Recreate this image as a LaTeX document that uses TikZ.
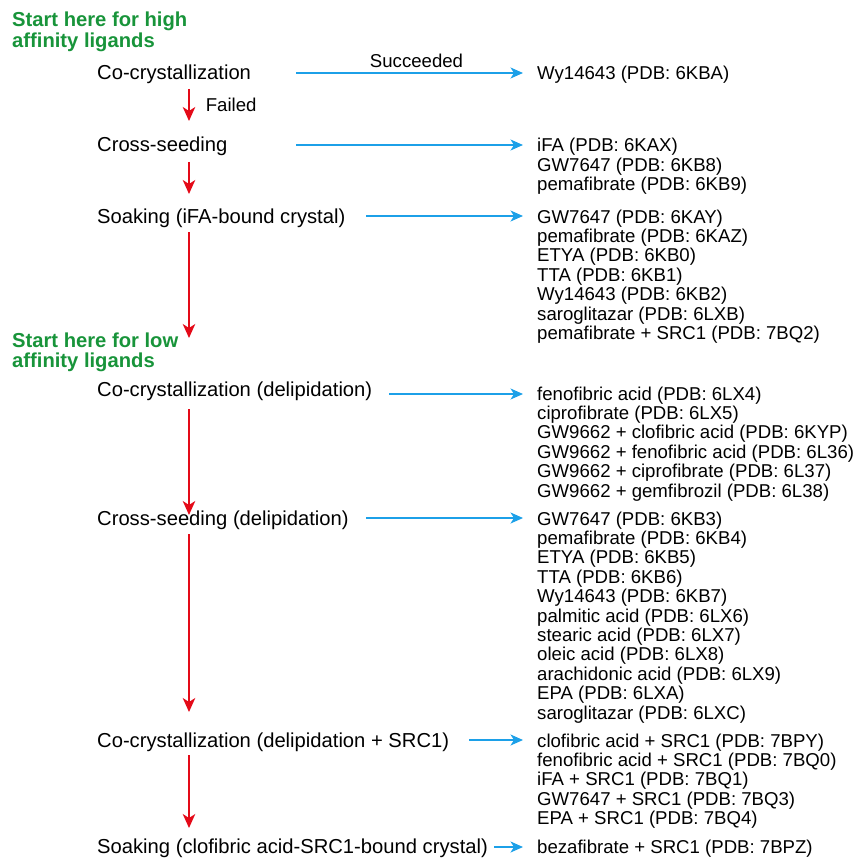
\documentclass[tikz,border=0pt]{standalone}
\usepackage{fontspec}
\setmainfont{Liberation Sans}
\usetikzlibrary{arrows.meta}
\definecolor{titlegreen}{RGB}{24,148,58}
\definecolor{arrowblue}{RGB}{28,160,232}
\definecolor{arrowred}{RGB}{228,10,24}
\tikzset{
  lbl/.style={anchor=base west, inner sep=0pt, font=\fontsize{20.2}{24}\selectfont},
  lst/.style={anchor=base west, inner sep=0pt, font=\fontsize{18.6}{19.4}\selectfont},
  ttl/.style={anchor=base west, inner sep=0pt, text=titlegreen, font=\bfseries\fontsize{20.2}{19.5}\selectfont},
  note/.style={inner sep=0pt, font=\fontsize{18.6}{20}\selectfont},
  barrow/.style={draw=arrowblue, line width=1.6pt, shorten >=14pt, -{Stealth[length=12.5pt,width=11pt,inset=3.5pt]}},
  rarrow/.style={draw=arrowred, line width=1.6pt, -{Stealth[length=14pt,width=12.5pt,inset=4pt]}}
}
\newcommand{\rows}[1]{\begin{tabular}[t]{@{}l@{}}#1\end{tabular}}
\begin{document}
\begin{tikzpicture}[x=1pt,y=-1pt]
\useasboundingbox (0,0) rectangle (860,861);
% titles
\node[ttl] (t1) at (12,27) {\rows{Start here for high\\affinity ligands}};
\node[ttl] (t2) at (12,347) {\rows{Start here for low\\affinity ligands}};
% main labels
\node[lbl] (m1) at (97,80) {Co-crystallization};
\node[lbl] (m2) at (97,152) {Cross-seeding};
\node[lbl] (m3) at (97,223) {Soaking (iFA-bound crystal)};
\node[lbl] (m4) at (97,396) {Co-crystallization (delipidation)};
\node[lbl] (m5) at (97,525) {Cross-seeding (delipidation)};
\node[lbl] (m6) at (97,747) {Co-crystallization (delipidation + SRC1)};
\node[lbl] (m7) at (97,853) {Soaking (clofibric acid-SRC1-bound crystal)};
% lists
\node[lst] (l1) at (537,80) {\rows{Wy14643 (PDB: 6KBA)}};
\node[lst] (l2) at (537,152) {\rows{iFA (PDB: 6KAX)\\GW7647 (PDB: 6KB8)\\pemafibrate (PDB: 6KB9)}};
\node[lst] (l3) at (537,223) {\rows{GW7647 (PDB: 6KAY)\\pemafibrate (PDB: 6KAZ)\\ETYA (PDB: 6KB0)\\TTA (PDB: 6KB1)\\Wy14643 (PDB: 6KB2)\\saroglitazar (PDB: 6LXB)\\pemafibrate + SRC1 (PDB: 7BQ2)}};
\node[lst] (l4) at (537,400) {\rows{fenofibric acid (PDB: 6LX4)\\ciprofibrate (PDB: 6LX5)\\GW9662 + clofibric acid (PDB: 6KYP)\\GW9662 + fenofibric acid (PDB: 6L36)\\GW9662 + ciprofibrate (PDB: 6L37)\\GW9662 + gemfibrozil (PDB: 6L38)}};
\node[lst] (l5) at (537,525) {\rows{GW7647 (PDB: 6KB3)\\pemafibrate (PDB: 6KB4)\\ETYA (PDB: 6KB5)\\TTA (PDB: 6KB6)\\Wy14643 (PDB: 6KB7)\\palmitic acid (PDB: 6LX6)\\stearic acid (PDB: 6LX7)\\oleic acid (PDB: 6LX8)\\arachidonic acid (PDB: 6LX9)\\EPA (PDB: 6LXA)\\saroglitazar (PDB: 6LXC)}};
\node[lst] (l6) at (537,747) {\rows{clofibric acid + SRC1 (PDB: 7BPY)\\fenofibric acid + SRC1 (PDB: 7BQ0)\\iFA + SRC1 (PDB: 7BQ1)\\GW7647 + SRC1 (PDB: 7BQ3)\\EPA + SRC1 (PDB: 7BQ4)}};
\node[lst] (l7) at (537,853) {\rows{bezafibrate + SRC1 (PDB: 7BPZ)}};
% blue arrow starts
\coordinate (b1) at (296,73);
\coordinate (b2) at (296,145);
\coordinate (b3) at (366,216);
\coordinate (b4) at (389,394);
\coordinate (b5) at (366,518);
\coordinate (b6) at (469,740);
\coordinate (b7) at (494,847);
\draw[barrow] (b1) -- (b1 -| l1.west) node[note, midway, above=5pt] (s1) {Succeeded};
\draw[barrow] (b2) -- (b2 -| l2.west);
\draw[barrow] (b3) -- (b3 -| l3.west);
\draw[barrow] (b4) -- (b4 -| l4.west);
\draw[barrow] (b5) -- (b5 -| l5.west);
\draw[barrow] (b6) -- (b6 -| l6.west);
\draw[barrow] (b7) -- (b7 -| l7.west);
% red arrows
\coordinate (r1a) at (189,89);  \coordinate (r1b) at (189,121);
\coordinate (r2a) at (189,162); \coordinate (r2b) at (189,194);
\coordinate (r3a) at (189,232); \coordinate (r3b) at (189,338);
\coordinate (r4a) at (189,409); \coordinate (r4b) at (189,515);
\coordinate (r5a) at (189,534); \coordinate (r5b) at (189,712);
\coordinate (r6a) at (189,755); \coordinate (r6b) at (189,828);
\draw[rarrow] (r1a) -- (r1b) node[note, midway, anchor=west, xshift=16pt] (f1) {Failed};
\draw[rarrow] (r2a) -- (r2b);
\draw[rarrow] (r3a) -- (r3b);
\draw[rarrow] (r4a) -- (r4b);
\draw[rarrow] (r5a) -- (r5b);
\draw[rarrow] (r6a) -- (r6b);
\end{tikzpicture}
\end{document}
